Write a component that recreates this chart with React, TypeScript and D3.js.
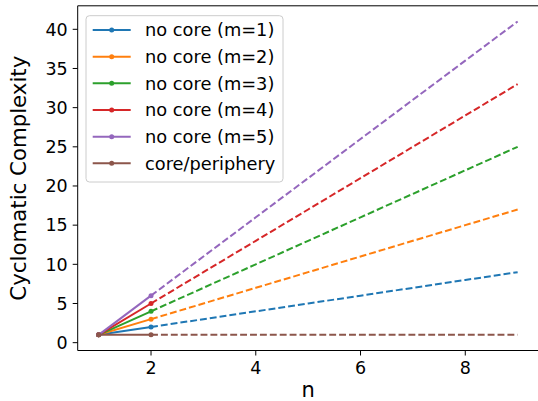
import React from "react";
import * as d3 from "d3";

const nValues = [1, 2, 3, 4, 5, 6, 7, 8, 9];
const seriesLabels = [
  "no core (m=1)",
  "no core (m=2)",
  "no core (m=3)",
  "no core (m=4)",
  "no core (m=5)",
  "core/periphery",
];
const m1 = [1, 2, 3, 4, 5, 6, 7, 8, 9];
const m2 = [1, 3, 5, 7, 9, 11, 13, 15, 17];
const m3 = [1, 4, 7, 10, 13, 16, 19, 22, 25];
const m4 = [1, 5, 9, 13, 17, 21, 25, 29, 33];
const m5 = [1, 6, 11, 16, 21, 26, 31, 36, 41];
const corePeriphery = [1, 1, 1, 1, 1, 1, 1, 1, 1];
const seriesValues = [m1, m2, m3, m4, m5, corePeriphery];
const colors = ["#1f77b4", "#ff7f0e", "#2ca02c", "#d62728", "#9467bd", "#8c564b"];
const xTicks = [2, 4, 6, 8];
const yTicks = [0, 5, 10, 15, 20, 25, 30, 35, 40];

const W = 538;
const H = 401;
const FONT = "'DejaVu Sans', sans-serif";

export default function App() {
  const x = d3.scaleLinear().domain([0.6, 9.4]).range([77.7, 538.6]);
  const y = d3.scaleLinear().domain([-1, 43]).range([350.5, 5.8]);
  const line = d3
    .line<[number, number]>()
    .x((d) => x(d[0]))
    .y((d) => y(d[1]));

  const left = x.range()[0];
  const right = x.range()[1];
  const top = y.range()[1];
  const bottom = y.range()[0];

  const legX = 86;
  const legY = 15.7;
  const rowH = 26.67;

  return (
    <svg
      width={W}
      height={H}
      style={{ position: "absolute", left: 0, top: 0, background: "#fff" }}
      fontFamily={FONT}
    >
      <rect x={0} y={0} width={W} height={H} fill="#fff" />
      {seriesValues.map((vals, i) => {
        const pts: [number, number][] = nValues.map((n, j) => [n, vals[j]]);
        const solid = pts.slice(0, 2);
        const dashed = pts.slice(1);
        return (
          <g key={i}>
            <path
              d={line(dashed) || ""}
              fill="none"
              stroke={colors[i]}
              strokeWidth={2}
              strokeDasharray="6.9,3"
            />
            <path d={line(solid) || ""} fill="none" stroke={colors[i]} strokeWidth={2} />
            {solid.map((p, k) => (
              <circle key={k} cx={x(p[0])} cy={y(p[1])} r={2.5} fill={colors[i]} />
            ))}
          </g>
        );
      })}
      {/* spines */}
      <path
        d={`M${left},${top} L${right},${top} M${left},${top} L${left},${bottom} L${right},${bottom}`}
        fill="none"
        stroke="#000"
        strokeWidth={1}
      />
      {xTicks.map((t) => (
        <g key={t}>
          <line x1={x(t)} x2={x(t)} y1={bottom} y2={bottom + 5} stroke="#000" strokeWidth={1} />
          <text x={x(t)} y={bottom + 23.5} textAnchor="middle" fontSize={17.5} fill="#000">
            {t}
          </text>
        </g>
      ))}
      {yTicks.map((t) => (
        <g key={t}>
          <line x1={left - 5} x2={left} y1={y(t)} y2={y(t)} stroke="#000" strokeWidth={1} />
          <text
            x={left - 10}
            y={y(t)}
            dy="0.36em"
            textAnchor="end"
            fontSize={17.5}
            fill="#000"
          >
            {t}
          </text>
        </g>
      ))}
      <text x={(left + right) / 2} y={397} textAnchor="middle" fontSize={21} fill="#000">
        n
      </text>
      <text
        transform={`translate(25.5,${(top + bottom) / 2}) rotate(-90)`}
        textAnchor="middle"
        fontSize={21.3}
        fill="#000"
      >
        Cyclomatic Complexity
      </text>
      {/* legend */}
      <rect
        x={legX}
        y={legY}
        width={197}
        height={166.3}
        rx={3.5}
        fill="#fff"
        fillOpacity={0.8}
        stroke="#cccccc"
        strokeWidth={1}
      />
      {seriesLabels.map((lab, i) => {
        const cy = 30 + i * rowH;
        return (
          <g key={lab}>
            <line x1={92.7} x2={130.7} y1={cy} y2={cy} stroke={colors[i]} strokeWidth={2} />
            <circle cx={111.7} cy={cy} r={2.5} fill={colors[i]} />
            <text x={145} y={cy} dy="0.36em" fontSize={17.8} fill="#000">
              {lab}
            </text>
          </g>
        );
      })}
    </svg>
  );
}
